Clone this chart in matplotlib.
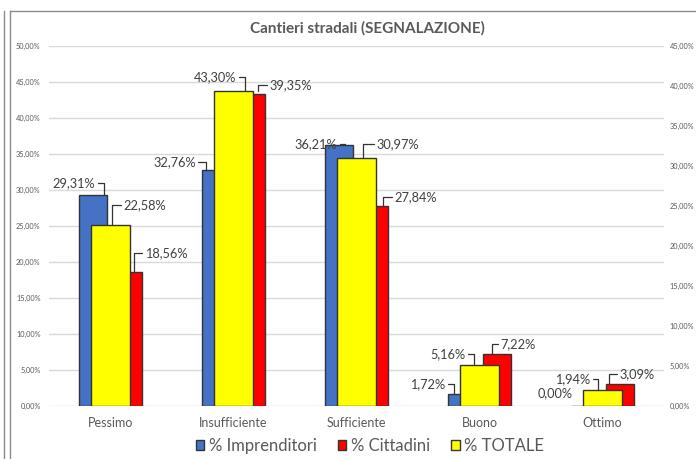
import numpy as np
import matplotlib
matplotlib.use("Agg")
import matplotlib.pyplot as plt
from matplotlib.patches import Patch
from matplotlib.lines import Line2D
from matplotlib.ticker import FuncFormatter

plt.rcParams['font.family'] = ['Lato', 'DejaVu Sans']

# data (percent)
categorie = ["Pessimo", "Insufficiente", "Sufficiente", "Buono", "Ottimo"]
imprenditori = [29.31, 32.76, 36.21, 1.72, 0.00]
cittadini = [18.56, 43.30, 27.84, 7.22, 3.09]
totale = [22.58, 39.35, 30.97, 5.16, 1.94]

GRAY = "#595959"
EDGE = "#333333"
PX = 1 / 123.0   # one pixel in category units

fig = plt.figure(figsize=(6.96, 4.59), dpi=100)
ax = fig.add_axes([49 / 696, 1 - 406 / 459, 615 / 696, 360 / 459])
ax2 = ax.twinx()

x = np.arange(len(categorie))
w_side = 27.5 * PX
w_tot = 38.5 * PX

ax.bar(x - 17.5 * PX, np.array(imprenditori) / 100, w_side, color="#4472C4",
       edgecolor=EDGE, linewidth=1, zorder=2)
ax.bar(x + 17.5 * PX, np.array(cittadini) / 100, w_side, color="#FF0000",
       edgecolor=EDGE, linewidth=1, zorder=2)
ax2.bar(x, np.array(totale) / 100, w_tot, color="#FFFF00",
        edgecolor=EDGE, linewidth=1, zorder=2)

ax.set_ylim(0, 0.5)
ax2.set_ylim(0, 0.45)
ax.set_xlim(-0.5, len(categorie) - 0.5)
ax.set_yticks(np.arange(0, 0.501, 0.05))
ax2.set_yticks(np.arange(0, 0.451, 0.05))
fmt = FuncFormatter(lambda v, p: ("%.2f%%" % (v * 100)).replace(".", ","))
ax.yaxis.set_major_formatter(fmt)
ax2.yaxis.set_major_formatter(fmt)
ax.grid(axis="y", color="#D9D9D9", linewidth=1, zorder=0)
ax.set_axisbelow(True)
for a in (ax, ax2):
    for s in a.spines.values():
        s.set_visible(False)
    a.tick_params(axis="y", length=0, labelsize=5.3, labelcolor=GRAY)
ax.tick_params(axis="y", pad=6)
ax2.tick_params(axis="y", pad=4)
ax.set_xticks(x)
ax.set_xticklabels(categorie)
ax.tick_params(axis="x", length=0, labelsize=9, labelcolor=GRAY, pad=8)


def etichette(axis, values, anchors, offsets):
    for i, v in enumerate(values):
        ax_off, dx, dy = anchors[i], offsets[i][0], offsets[i][1]
        ha = "right" if dx < 0 else "left"
        txt = ("%.2f%%" % v).replace(".", ",")
        kw = {}
        if v > 0:
            kw["arrowprops"] = dict(arrowstyle="-", color=EDGE, lw=0.9,
                                    shrinkA=0, shrinkB=0,
                                    relpos=(1, 0.5) if dx < 0 else (0, 0.5),
                                    connectionstyle="angle,angleA=0,angleB=90,rad=0")
        axis.annotate(txt, xy=(i + ax_off * PX, v / 100), xytext=(dx, dy),
                      textcoords="offset pixels", ha=ha, va="center",
                      fontsize=9.2, color="#404040", zorder=5, **kw)


etichette(ax, imprenditori, [-6.5, -27.8, -11.5, -25.2, -22],
          [(-9, 12.3), (-10, 7.7), (-8, 1), (-9, 9.3), (-8, 12.7)])
etichette(ax, cittadini, [23.5, 11.5, 26.8, 12.2, 6.8],
          [(11, 19.4), (-8.5, 17.2), (11, 8.5), (9, 10.3), (10, 9.3)])
etichette(ax2, totale, [1.2, 24.2, 6.8, -5.2, -4.2],
          [(12, 20.4), (12, 5.8), (13, 13.8), (-9, 10.3), (-8, 11.8)])

fig.text(367.7 / 696, 1 - 28 / 459, "Cantieri stradali (SEGNALAZIONE)",
         ha="center", va="center", fontsize=11, fontweight="bold", color=GRAY)

handles = [Patch(facecolor="#4472C4", edgecolor=EDGE, label="% Imprenditori"),
           Patch(facecolor="#FF0000", edgecolor=EDGE, label="% Cittadini"),
           Patch(facecolor="#FFFF00", edgecolor=EDGE, label="% TOTALE")]
leg = fig.legend(handles=handles, loc="center", bbox_to_anchor=(370 / 696, 1 - 446 / 459),
                 ncol=3, frameon=False, fontsize=12, handlelength=0.5, handleheight=0.5,
                 handletextpad=0.25, columnspacing=1.3, borderpad=0)
for t in leg.get_texts():
    t.set_color(GRAY)

# chart borders
bc = "#8C8C8C"
fig.add_artist(Line2D([3.5 / 696, 3.5 / 696], [0, 1 - 11 / 459], color=bc, lw=1))
fig.add_artist(Line2D([9.5 / 696, 9.5 / 696], [0, 1 - 11 / 459], color=bc, lw=1))
fig.add_artist(Line2D([9.5 / 696, 1], [1 - 11 / 459, 1 - 11 / 459], color=bc, lw=1))

fig.savefig("out.png", dpi=100)
